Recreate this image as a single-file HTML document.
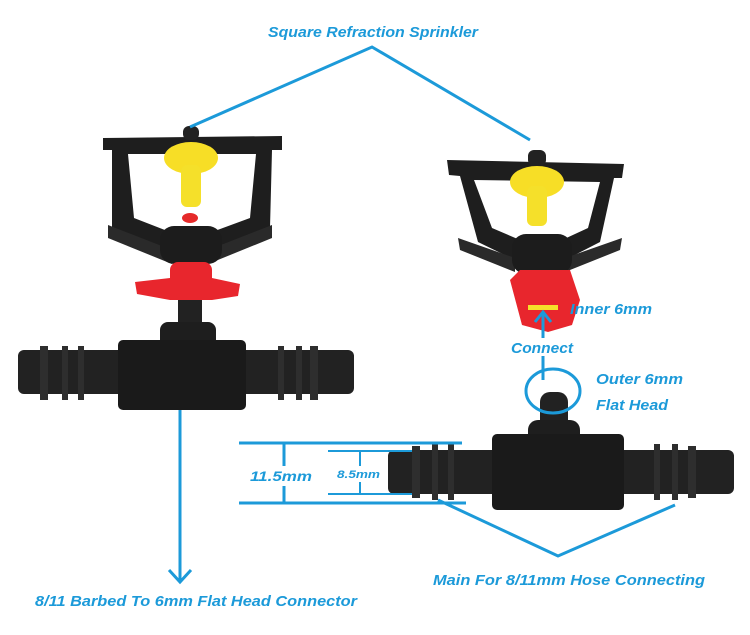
<!DOCTYPE html>
<html><head><meta charset="utf-8"><style>
html,body{margin:0;padding:0;background:#fff}
svg{display:block}
text{font-family:"Liberation Sans",sans-serif;font-weight:bold;font-style:italic;fill:#1c9ad9}
</style></head><body>
<svg width="750" height="635" viewBox="0 0 750 635" xmlns="http://www.w3.org/2000/svg">
<rect width="750" height="635" fill="#fff"/>
<!-- LEFT SPRINKLER -->
<g>
<path d="M103,138 L282,136 L282,150 L272,150 L270,228 L212,250 L170,250 L112,228 L112,150 L103,150 Z M128,154 L134,218 L170,232 L212,232 L250,218 L256,154 Z" fill="#1e1e1e" fill-rule="evenodd"/>
<path d="M108,225 L172,250 L172,264 L108,238 Z" fill="#2a2a2a"/>
<path d="M272,225 L208,250 L208,264 L272,238 Z" fill="#2a2a2a"/>
<rect x="183" y="126" width="16" height="14" rx="6" fill="#222"/>
<ellipse cx="191" cy="158" rx="27" ry="16" fill="#f7de26"/>
<rect x="181" y="165" width="20" height="42" rx="6" fill="#f5e02a"/>
<ellipse cx="190" cy="218" rx="8" ry="5" fill="#e52a2a"/>
<rect x="160" y="226" width="62" height="38" rx="14" fill="#1c1c1c"/>
<rect x="170" y="262" width="42" height="38" rx="8" fill="#e8262d"/>
<path d="M135,282 L170,278 L212,278 L240,284 L238,296 L212,300 L170,300 L137,294 Z" fill="#e8262d"/>
<rect x="178" y="300" width="24" height="30" fill="#222"/>
<rect x="160" y="322" width="56" height="28" rx="8" fill="#1e1e1e"/>
<rect x="18" y="350" width="336" height="44" rx="6" fill="#222"/>
<rect x="118" y="340" width="128" height="70" rx="5" fill="#1a1a1a"/>
<rect x="40" y="346" width="8" height="54" fill="#2e2e2e"/>
<rect x="62" y="346" width="6" height="54" fill="#2e2e2e"/>
<rect x="78" y="346" width="6" height="54" fill="#2e2e2e"/>
<rect x="278" y="346" width="6" height="54" fill="#2e2e2e"/>
<rect x="296" y="346" width="6" height="54" fill="#2e2e2e"/>
<rect x="310" y="346" width="8" height="54" fill="#2e2e2e"/>
</g>
<!-- RIGHT SPRINKLER -->
<g>
<path d="M447,160 L624,164 L622,178 L614,178 L600,242 L565,260 L515,260 L478,242 L460,176 L449,175 Z M474,180 L492,228 L520,240 L562,240 L588,228 L600,182 Z" fill="#1e1e1e" fill-rule="evenodd"/>
<path d="M458,238 L515,258 L515,272 L460,250 Z" fill="#2a2a2a"/>
<path d="M622,238 L565,258 L565,272 L620,250 Z" fill="#2a2a2a"/>
<rect x="528" y="150" width="18" height="16" rx="6" fill="#222"/>
<ellipse cx="537" cy="182" rx="27" ry="16" fill="#f7de26"/>
<rect x="527" y="186" width="20" height="40" rx="6" fill="#f5e02a"/>
<rect x="512" y="234" width="60" height="40" rx="14" fill="#1c1c1c"/>
<path d="M510,280 L520,270 L570,270 L580,300 L572,325 L548,332 L522,325 Z" fill="#e8262d"/>
<rect x="528" y="305" width="30" height="5" fill="#f5e02a"/>
<rect x="540" y="392" width="28" height="40" rx="10" fill="#222"/>
<rect x="528" y="420" width="52" height="24" rx="10" fill="#1e1e1e"/>
<rect x="388" y="450" width="346" height="44" rx="6" fill="#222"/>
<rect x="492" y="434" width="132" height="76" rx="5" fill="#1a1a1a"/>
<rect x="412" y="446" width="8" height="52" fill="#2e2e2e"/>
<rect x="432" y="444" width="6" height="56" fill="#2e2e2e"/>
<rect x="448" y="444" width="6" height="56" fill="#2e2e2e"/>
<rect x="654" y="444" width="6" height="56" fill="#2e2e2e"/>
<rect x="672" y="444" width="6" height="56" fill="#2e2e2e"/>
<rect x="688" y="446" width="8" height="52" fill="#2e2e2e"/>
</g>
<!-- ANNOTATIONS -->
<g stroke="#1c9ad9" stroke-width="3" fill="none">
<polyline points="190,127 372,47 530,140"/>
<line x1="180" y1="410" x2="180" y2="582"/>
<polyline points="169,570 180,582 191,570"/>
<line x1="543" y1="338" x2="543" y2="312"/>
<polyline points="535,322 543,312 551,322"/>
<line x1="543" y1="356" x2="543" y2="380"/>
<ellipse cx="553" cy="391" rx="27" ry="22"/>
<line x1="239" y1="443" x2="462" y2="443"/>
<line x1="239" y1="503" x2="466" y2="503"/>
<line x1="284" y1="443" x2="284" y2="466"/>
<line x1="284" y1="486" x2="284" y2="503"/>
<line x1="328" y1="451" x2="412" y2="451" stroke-width="2"/>
<line x1="328" y1="494" x2="412" y2="494" stroke-width="2"/>
<line x1="360" y1="451" x2="360" y2="466" stroke-width="2"/>
<line x1="360" y1="482" x2="360" y2="494" stroke-width="2"/>
<polyline points="438,500 558,556 675,505"/>
</g>
<text x="268" y="37" font-size="15" textLength="210" lengthAdjust="spacingAndGlyphs">Square Refraction Sprinkler</text>
<text x="35" y="606" font-size="15" textLength="322" lengthAdjust="spacingAndGlyphs">8/11 Barbed To 6mm Flat Head Connector</text>
<text x="433" y="585" font-size="15" textLength="272" lengthAdjust="spacingAndGlyphs">Main For 8/11mm Hose Connecting</text>
<text x="570" y="314" font-size="15" textLength="82" lengthAdjust="spacingAndGlyphs">Inner 6mm</text>
<text x="511" y="353" font-size="15" textLength="62" lengthAdjust="spacingAndGlyphs">Connect</text>
<text x="596" y="384" font-size="15" textLength="87" lengthAdjust="spacingAndGlyphs">Outer 6mm</text>
<text x="596" y="410" font-size="15" textLength="72" lengthAdjust="spacingAndGlyphs">Flat Head</text>
<text x="250" y="481" font-size="14" textLength="62" lengthAdjust="spacingAndGlyphs">11.5mm</text>
<text x="337" y="478" font-size="11" textLength="43" lengthAdjust="spacingAndGlyphs">8.5mm</text>
</svg>
</body></html>
